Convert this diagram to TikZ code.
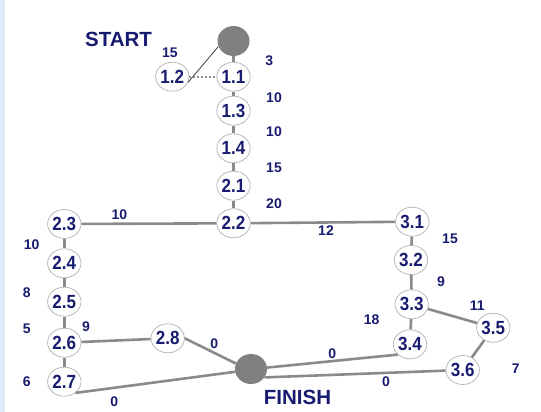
\documentclass[tikz,border=0pt]{standalone}
\usepackage{fontspec}
\setmainfont{Liberation Sans}
\usepackage{graphicx}
\usepackage{tikz}
\usetikzlibrary{shapes.geometric}

\definecolor{navy}{RGB}{24,28,112}
\definecolor{edgegray}{RGB}{138,138,138}
\definecolor{rimgray}{RGB}{178,178,178}
\definecolor{termgray}{RGB}{128,128,128}
\definecolor{stripblue}{RGB}{222,233,250}

\newcommand{\tallnum}[1]{\scalebox{1}[1.12]{#1}}

\tikzset{
  task/.style={ellipse, draw=rimgray, line width=0.7pt, fill=white,
    minimum width=32pt, minimum height=29pt, inner sep=0pt,
    text=navy, font=\fontsize{17}{17}\selectfont\bfseries},
  term/.style={ellipse, fill=termgray, minimum width=32pt, minimum height=30pt, inner sep=0pt},
  link/.style={draw=edgegray, line width=2.6pt},
  wt/.style={text=navy, font=\fontsize{14}{14}\selectfont\bfseries, inner sep=0pt},
  bigtext/.style={text=navy, font=\fontsize{20.5}{20.5}\selectfont\bfseries, inner sep=0pt}
}

\begin{document}
\begin{tikzpicture}[x=1pt,y=-1pt]
            \useasboundingbox (0,0) rectangle (541,412);
            \fill[stripblue] (0,0) rectangle (5,412);

            \node[term] (start) at (233.5,41) {};
            \node[term] (finish) at (251,369) {};

            \node[task] (n11) at (233.5,76.7) {\tallnum{1.1}};
            \node[task] (n12) at (172.3,76.7) {\tallnum{1.2}};
            \node[task] (n13) at (233.5,110.7) {\tallnum{1.3}};
            \node[task] (n14) at (233.5,148.3) {\tallnum{1.4}};
            \node[task] (n21) at (233.5,185.7) {\tallnum{2.1}};
            \node[task] (n22) at (233.5,223.3) {\tallnum{2.2}};
            \node[task] (n23) at (64.3,224) {\tallnum{2.3}};
            \node[task] (n24) at (64.3,263.3) {\tallnum{2.4}};
            \node[task] (n25) at (64.3,301.7) {\tallnum{2.5}};
            \node[task] (n26) at (64.3,342.7) {\tallnum{2.6}};
            \node[task] (n27) at (64.3,381.7) {\tallnum{2.7}};
            \node[task] (n28) at (167.7,338.3) {\tallnum{2.8}};
            \node[task] (n31) at (412.3,221.7) {\tallnum{3.1}};
            \node[task] (n32) at (411,260) {\tallnum{3.2}};
            \node[task] (n33) at (411.7,304.3) {\tallnum{3.3}};
            \node[task] (n34) at (410,344.3) {\tallnum{3.4}};
            \node[task] (n35) at (493.3,327.7) {\tallnum{3.5}};
            \node[task] (n36) at (462.7,370) {\tallnum{3.6}};

            \draw[draw=black!75, line width=0.8pt] (start.-160) -- (n12.-20);
            \draw[edgegray, line width=2pt, dotted] (n12) -- (n11);

            \draw[link] (start) -- (n11);
            \draw[link] (n11) -- (n13);
            \draw[link] (n13) -- (n14);
            \draw[link] (n14) -- (n21);
            \draw[link] (n21) -- (n22);
            \draw[link] (n22) -- (n23);
            \draw[link] (n22) -- (n31);
            \draw[link] (n23) -- (n24);
            \draw[link] (n24) -- (n25);
            \draw[link] (n25) -- (n26);
            \draw[link] (n26) -- (n27);
            \draw[link] (n26) -- (n28);
            \draw[link] (n28.east) -- (finish.160);
            \draw[link] (n27.-45) -- (finish.-170);
            \draw[link] (n31) -- (n32);
            \draw[link] (n32) -- (n33);
            \draw[link] (n33) -- (n34);
            \draw[link] (n33) -- (n35);
            \draw[link] (n35) -- (n36);
            \draw[link] (n34.-140) -- (finish.5);
            \draw[link] (n36) -- (finish.-32);

            \node[bigtext] (lstart) at (118.5,39.5) {START};
            \node[bigtext] (lfinish) at (297.5,397.5) {FINISH};

            \node[wt] (w1) at (170,52.3) {15};
            \node[wt] (w2) at (269.3,60.7) {3};
            \node[wt] (w3) at (274,97.3) {10};
            \node[wt] (w4) at (274,131.7) {10};
            \node[wt] (w5) at (274,167.3) {15};
            \node[wt] (w6) at (274,203.5) {20};
            \node[wt] (w7) at (119.3,215) {10};
            \node[wt] (w8) at (326,230.7) {12};
            \node[wt] (w9) at (31.7,245) {10};
            \node[wt] (w10) at (26.7,292.7) {8};
            \node[wt] (w11) at (26.7,328.3) {5};
            \node[wt] (w12) at (26.7,381.7) {6};
            \node[wt] (w13) at (86,326.7) {9};
            \node[wt] (w14) at (214.3,343.3) {0};
            \node[wt] (w15) at (114.3,401.7) {0};
            \node[wt] (w16) at (450,239) {15};
            \node[wt] (w17) at (441,281.7) {9};
            \node[wt] (w18) at (477.3,306) {11};
            \node[wt] (w19) at (371.7,320) {18};
            \node[wt] (w20) at (332.3,353.3) {0};
            \node[wt] (w21) at (386,381.7) {0};
            \node[wt] (w22) at (515.7,368.3) {7};
        \end{tikzpicture}
\end{document}
